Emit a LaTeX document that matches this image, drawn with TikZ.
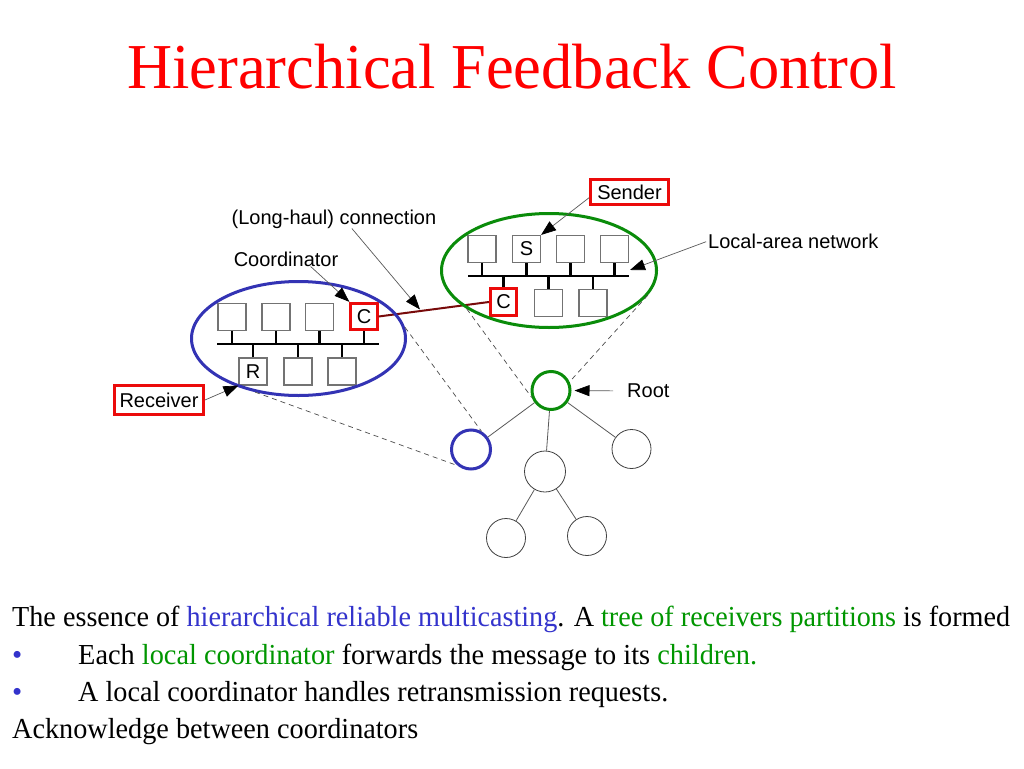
\documentclass[tikz,border=0pt]{standalone}
\usepackage{fontspec}
\setmainfont{Liberation Serif}
\newfontfamily\arialf{Liberation Sans}
\usetikzlibrary{shapes.geometric,arrows.meta}
\definecolor{titlered}{RGB}{255,0,0}
\definecolor{txtblue}{RGB}{51,51,204}
\definecolor{txtgreen}{RGB}{0,150,0}
\definecolor{ellblue}{RGB}{51,51,180}
\definecolor{ellgreen}{RGB}{10,140,10}
\definecolor{boxred}{RGB}{235,10,10}
\definecolor{haulred}{RGB}{120,10,10}
\begin{document}
\begin{tikzpicture}[x=1pt,y=-1pt,
  lanbox/.style={draw=black!55, line width=1.1pt, minimum width=28pt, minimum height=27pt, inner sep=0pt,
    font=\arialf\fontsize{20}{20}\selectfont},
  redbox/.style={lanbox, draw=boxred, line width=2.8pt, minimum width=26.5pt, minimum height=26.5pt},
  bus/.style={line width=2.8pt, line cap=butt},
  stem/.style={line width=2.2pt},
  lbl/.style={font=\arialf\fontsize{20}{20}\selectfont, inner sep=0pt},
  tagbox/.style={lbl, draw=boxred, line width=2.8pt},
  leader/.style={draw=black!65, line width=0.7pt, -{Triangle[length=15pt,width=11pt,color=black]}},
  dashln/.style={draw=black!70, line width=0.7pt, dash pattern=on 5pt off 4pt},
  treeedge/.style={draw=black!65, line width=0.8pt},
  treenode/.style={circle, draw=black!75, line width=0.8pt, minimum size=39pt, inner sep=0pt},
  lan/.style={ellipse, line width=3pt, minimum width=214pt, minimum height=114pt, inner sep=0pt},
  body/.style={anchor=base west, inner sep=0pt, font=\fontsize{29}{29}\selectfont}
]
\useasboundingbox (0,0) rectangle (1024,768);
\fill[white] (0,0) rectangle (1024,768);

% title
\node[anchor=base west, inner sep=0pt, text=titlered] (title) at (127,88)
  {\resizebox{770pt}{\height}{\fontsize{64}{64}\selectfont Hierarchical Feedback Control}};

% ---------- left LAN ----------
\node[lanbox] (L1) at (232,317) {};
\node[lanbox] (L2) at (276,317) {};
\node[lanbox] (L3) at (319.5,317) {};
\node[redbox] (C1) at (364,316.5) {C};
\node[lanbox] (R) at (253,371.5) {R};
\node[lanbox] (L5) at (298,371.5) {};
\node[lanbox] (L6) at (342,371.5) {};
\coordinate (busLa) at (217,344);
\coordinate (busLb) at (379,344);
\draw[bus] (busLa) -- (busLb);
\foreach \b in {L1,L2,L3,C1} \draw[stem] (\b.south) -- (\b.south |- busLa);
\foreach \b in {R,L5,L6} \draw[stem] (\b.north) -- (\b.north |- busLa);

% ---------- right LAN ----------
\node[lanbox] (M1) at (482,249) {};
\node[lanbox] (S) at (526.5,249) {S};
\node[lanbox] (M3) at (570.5,249) {};
\node[lanbox] (M4) at (614.5,249) {};
\node[redbox] (C2) at (503.5,302) {C};
\node[lanbox] (M6) at (548.5,303) {};
\node[lanbox] (M7) at (593,303) {};
\coordinate (busRa) at (468,276);
\coordinate (busRb) at (629,276);
\draw[bus] (busRa) -- (busRb);
\foreach \b in {M1,S,M3,M4} \draw[stem] (\b.south) -- (\b.south |- busRa);
\foreach \b in {C2,M6,M7} \draw[stem] (\b.north) -- (\b.north |- busRa);

% long-haul connection
\draw[draw=haulred, line width=2pt] (C1.east) -- (C2.west);

% ellipses
\node[lan, draw=ellblue] (ellL) at (298.5,338.5) {};
\node[lan, draw=ellgreen, minimum width=215pt] (ellR) at (549,270.5) {};

% ---------- tree ----------
\node[treenode, draw=ellgreen, line width=3pt, minimum size=38pt] (root) at (551,390.5) {};
\node[treenode, draw=ellblue, line width=3pt, minimum size=39pt] (blue) at (471,449.5) {};
\node[treenode] (tr) at (631.5,449) {};
\node[treenode, minimum size=41pt] (tm) at (545,471.5) {};
\node[treenode] (tbl) at (506,538) {};
\node[treenode] (tbr) at (587,536) {};
\draw[treeedge] (root) -- (blue);
\draw[treeedge] (root) -- (tm);
\draw[treeedge] (root) -- (tr);
\draw[treeedge] (tm) -- (tbl);
\draw[treeedge] (tm) -- (tbr);

% dashed projections
\draw[dashln] (ellL.6) -- (blue.60);
\draw[dashln] (ellL.231) -- (blue.230);
\draw[dashln] (ellR.205) -- (root.200);
\draw[dashln] (ellR.-14) -- (root.25);

% ---------- labels ----------
\node[tagbox, minimum width=78pt, minimum height=25pt] (sender) at (629.5,192) {Sender};
\node[tagbox, minimum width=89pt, minimum height=29pt] (receiver) at (159,400) {Receiver};
\node[lbl] (lh) at (334,219) {(Long-haul) connection};
\node[lbl] (coord) at (286,259) {Coordinator};
\node[lbl, anchor=west] (lanlbl) at (708,241) {Local-area network};
\node[lbl, anchor=west] (rootlbl) at (627,391) {Root};

\coordinate (lhTip) at (420,309.5);
\coordinate (lanTip) at (630,270);
\draw[leader] (sender.188) -- (S.north east);
\draw[leader, shorten <=2pt] (lanlbl.west) -- (lanTip);
\draw[leader] (coord.-17) -- (C1.north west);
\draw[leader] (lh.-28) -- (lhTip);
\draw[leader] (receiver.east) -- (R.south west);
\draw[leader, shorten <=14pt, shorten >=3pt] (rootlbl.west) -- (root.east);

% ---------- body text ----------
\node[body] (t1) at (12,626) {\resizebox{998pt}{\height}{The essence of \textcolor{txtblue}{hierarchical reliable multicasting}. A \textcolor{txtgreen}{tree of receivers partitions} is formed}};
\node[body, text=txtblue] (b1) at (12,664) {•};
\node[body] (t2) at (78,664) {\resizebox{679pt}{\height}{Each \textcolor{txtgreen}{local coordinator} forwards the message to its \textcolor{txtgreen}{children.}}};
\node[body, text=txtblue] (b2) at (12,701) {•};
\node[body] (t3) at (78,701) {\resizebox{590pt}{\height}{A local coordinator handles retransmission requests.}};
\node[body] (t4) at (12,738) {\resizebox{406pt}{\height}{Acknowledge between coordinators}};
\end{tikzpicture}
\end{document}
